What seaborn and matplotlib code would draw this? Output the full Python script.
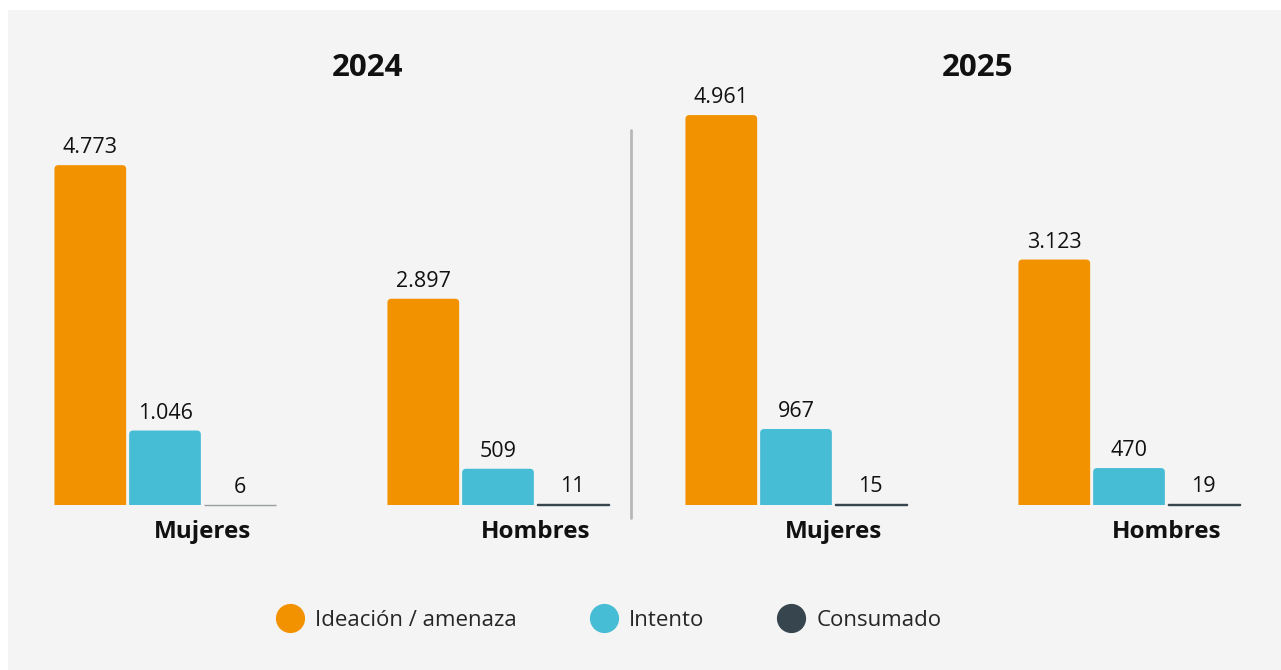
import numpy as np
import pandas as pd
import seaborn as sns
import matplotlib.pyplot as plt
from matplotlib.patches import FancyBboxPatch, Rectangle
from matplotlib.lines import Line2D

# data
years = ["2024", "2025"]
sexes = ["Mujeres", "Hombres"]
tipos = ["Ideación / amenaza", "Intento", "Consumado"]
ideacion = {"2024": [4773, 2897], "2025": [4961, 3123]}
intento = {"2024": [1046, 509], "2025": [967, 470]}
consumado = {"2024": [6, 11], "2025": [15, 19]}

colors = ["#f39200", "#47bdd5", "#37454f"]
bg = "#f3f4f3"

rows = []
for y in years:
    for i, s in enumerate(sexes):
        rows.append((y, s, tipos[0], ideacion[y][i]))
        rows.append((y, s, tipos[1], intento[y][i]))
        rows.append((y, s, tipos[2], consumado[y][i]))
df = pd.DataFrame(rows, columns=["anio", "sexo", "tipo", "valor"])

sns.set_theme(style="white")
plt.rcParams["font.family"] = ["Open Sans", "DejaVu Sans"]

W, H = 1281, 670
fig = plt.figure(figsize=(W / 100, H / 100), dpi=100, facecolor="white")
fig.patches.append(Rectangle((8 / W, 0), 1, 1 - 10 / H, transform=fig.transFigure,
                             facecolor=bg, edgecolor="none", zorder=-10))

# layout per panel (pixels)
base_px = 505
top_px = 100
panel_left = [20, 640]
panel_right = [625, 1265]
group0_px = [165, 796]
unit_px = 333
ylims = [405 / 0.0712, 405 / 0.0786]
title_px = [368, 978]

for k, y in enumerate(years):
    l, r = panel_left[k], panel_right[k]
    ax = fig.add_axes([l / W, (H - base_px) / H, (r - l) / W, (base_px - top_px) / H])
    ax.set_facecolor("none")
    sub = df[df["anio"] == y]
    sns.barplot(data=sub, x="sexo", y="valor", hue="tipo", order=sexes, hue_order=tipos,
                palette=colors, width=0.673, gap=0.04, legend=False, ax=ax,
                errorbar=None, saturation=1)
    ax.set_xlim((l - group0_px[k]) / unit_px, (r - group0_px[k]) / unit_px)
    ax.set_ylim(0, ylims[k])

    # rounded tops
    xpp = (ax.get_xlim()[1] - ax.get_xlim()[0]) / (r - l)
    ypp = ylims[k] / (base_px - top_px)
    rad = 4
    for cont in ax.containers:
        ax.bar_label(cont, labels=[f"{v:,.0f}".replace(",", ".") for v in cont.datavalues],
                     padding=5, fontsize=15.5, color="#111111")
        for p in cont.patches:
            x0, w, h = p.get_x(), p.get_width(), p.get_height()
            fc = p.get_facecolor()
            if h / ypp > 3 * rad:
                p.set_visible(False)
                fb = FancyBboxPatch((x0, -rad * ypp), w, h + rad * ypp,
                                    boxstyle=f"round,pad=0,rounding_size={rad * xpp}",
                                    mutation_aspect=ypp / xpp, facecolor=fc,
                                    edgecolor="none", zorder=2)
                ax.add_patch(fb)
            else:
                p.set_edgecolor("#9aa0a4" if h < 10 else fc)
                p.set_linewidth(1.0)
                p.set_clip_on(False)

    ax.set_xticks([0.112, 1.112])
    ax.set_xticklabels(sexes, fontsize=17.5, fontweight="bold", color="#111111")
    ax.tick_params(axis="x", length=0, pad=11)
    ax.set_yticks([])
    ax.set_xlabel("")
    ax.set_ylabel("")
    sns.despine(ax=ax, left=True, bottom=True)

    fig.text(title_px[k] / W, (H - 68) / H, y, ha="center", va="center",
             fontsize=22.5, fontweight="bold", color="#111111")

# separator
fig.add_artist(Line2D([631 / W, 631 / W], [(H - 518) / H, (H - 130) / H],
                      transform=fig.transFigure, color="#b8b8b8", linewidth=2))

handles = [Line2D([], [], marker="o", linestyle="none", markersize=20,
                  markerfacecolor=c, markeredgecolor=c) for c in colors]
fig.legend(handles, tipos, loc="center", bbox_to_anchor=(609 / W, (H - 620) / H),
           ncol=3, frameon=False, fontsize=16, handletextpad=0.55, columnspacing=3.3,
           handlelength=1.2)

fig.savefig("out.png", dpi=100, facecolor="white")
